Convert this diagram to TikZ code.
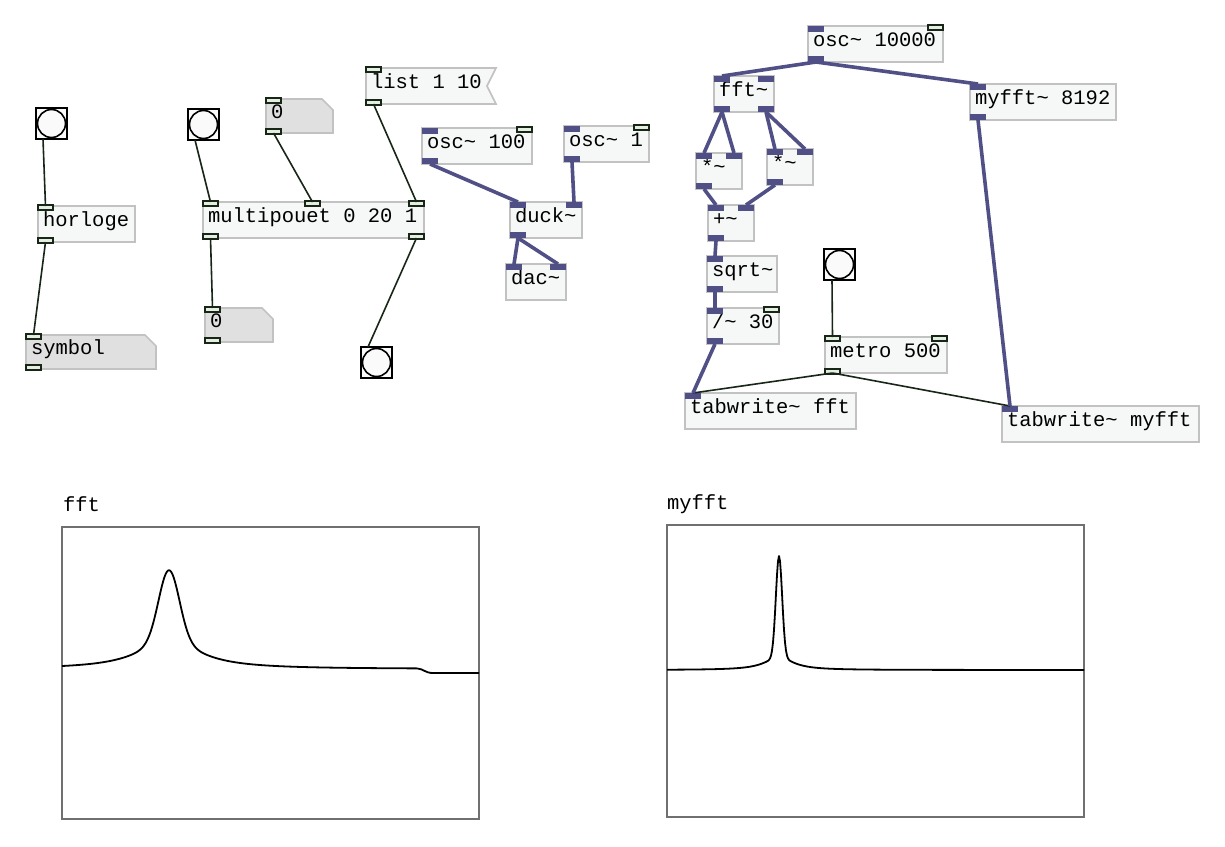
\documentclass[tikz,border=0pt]{standalone}
\usepackage{fontspec}
\setmonofont{Liberation Mono}
\newcommand*{\patchfont}{\ttfamily\fontsize{20.5}{20.5}\selectfont}
\newcommand*{\tld}{\textasciitilde}
\definecolor{boxfill}{HTML}{F6F8F8}
\definecolor{boxline}{HTML}{C2C2C2}
\definecolor{atomfill}{HTML}{E0E0E0}
\definecolor{sig}{HTML}{505086}
\definecolor{wire}{HTML}{182618}
\definecolor{portfill}{HTML}{E4EFE2}
\definecolor{frame}{HTML}{707070}
\usepackage{tikz}
\tikzstyle{base}=[x=1pt, y=-1pt, outer sep=0pt]
\tikzstyle{obj}=[draw=boxline, fill=boxfill, line width=1.6pt, anchor=north west, inner xsep=5pt, inner ysep=4pt, text height=16pt, text depth=12pt, align=flush left, font=\patchfont]
\tikzstyle{boxedge}=[draw=boxline, line width=1.6pt, line join=miter]
\tikzstyle{msg}=[obj, draw=none, path picture={\fill[white] (path picture bounding box.north east) -- ([xshift=-9pt]path picture bounding box.east) -- (path picture bounding box.south east) -- cycle;}]
\tikzstyle{atom}=[obj, draw=none, fill=atomfill, text height=15pt, text depth=11pt, path picture={\fill[white] ([xshift=-11pt]path picture bounding box.north east) -- (path picture bounding box.north east) -- ([yshift=-11pt]path picture bounding box.north east) -- cycle;}]
\tikzstyle{bng}=[draw=black, line width=2.2pt, fill=white!98!black, minimum size=31pt, inner sep=0pt, anchor=north west, path picture={\draw[line width=1.6pt] (path picture bounding box.center) circle (14pt);}]
\tikzstyle{cport}=[draw=wire, fill=portfill, line width=1.2pt]
\tikzstyle{sport}=[fill=sig]
\tikzstyle{ctrl}=[draw=wire, line width=1.6pt]
\tikzstyle{sigwire}=[draw=sig, line width=3.6pt]
\tikzstyle{arrayname}=[font=\patchfont, anchor=base west, inner sep=0pt]
\tikzstyle{graphframe}=[draw=frame, line width=1.6pt]
\tikzstyle{curve}=[draw=black, line width=1.8pt, line join=round]
\newcommand*{\cin}[2][0]{\draw[cport] ([xshift=#1pt,yshift=1pt]#2) rectangle ++(15,5);}
\newcommand*{\cout}[2][0]{\draw[cport] ([xshift=#1pt,yshift=-1pt]#2) rectangle ++(15,-5);}
\newcommand*{\sigin}[2][0]{\fill[sport] ([xshift=#1pt]#2) rectangle ++(16,6);}
\newcommand*{\sigout}[2][0]{\fill[sport] ([xshift=#1pt]#2) rectangle ++(16,-6);}
\newcommand*{\msgframe}[1]{\draw[boxedge] (#1.north west) -- (#1.north east) -- ([xshift=-9pt]#1.east) -- (#1.south east) -- (#1.south west) -- cycle;}
\newcommand*{\atomframe}[1]{\draw[boxedge] (#1.north west) -- ([xshift=-11pt]#1.north east) -- ([yshift=-11pt]#1.north east) -- (#1.south east) -- (#1.south west) -- cycle;}
\begin{document}
\begin{tikzpicture}[base]
    \path [use as bounding box] (0,0) rectangle (1225,846);
        % control part
        \node [bng] (b1) at (36,108) {};
        \node [bng] (b2) at (188,109) {};
        \node [bng] (b3) at (361,347) {};
        \node [bng] (b4) at (824,249) {};
        \node [obj, text width=87pt] (horloge) at (38,206) {horloge};
        \node [atom, text width=120pt] (symbol) at (26,335) {symbol};
        \node [atom, text width=57pt] (numtop) at (266,99) {0};
        \node [atom, text width=58pt] (numbot) at (205,308) {0};
        \node [obj, text width=211pt] (multi) at (203,202) {multipouet 0 20 1};
        \node [msg, text width=120pt] (list) at (366,68) {list 1 10};
        \node [obj, text width=112pt] (metro) at (825,337) {metro 500};
        \atomframe{symbol} \atomframe{numtop} \atomframe{numbot}
        \msgframe{list}
        % signal part
        \node [obj, text width=100pt] (osca) at (422,128) {osc\tld{} 100};
        \node [obj, text width=75pt] (oscb) at (564,126) {osc\tld{} 1};
        \node [obj, text width=62pt] (duck) at (510,202) {duck\tld};
        \node [obj, text width=50pt] (dac) at (506,264) {dac\tld};
        \node [obj, text width=125pt] (oscc) at (808,26) {osc\tld{} 10000};
        \node [obj, text width=50pt] (fft) at (714,76) {fft\tld};
        \node [obj, text width=136pt] (myfft) at (970,84) {myfft\tld{} 8192};
        \node [obj, text width=36pt] (mula) at (696,153) {*\tld};
        \node [obj, text width=36pt] (mulb) at (767,149) {*\tld};
        \node [obj, text width=36pt] (add) at (708,205) {+\tld};
        \node [obj, text width=60pt] (sqrt) at (707,256) {sqrt\tld};
        \node [obj, text width=62pt] (div) at (707,308) {/\tld{} 30};
        \node [obj, text width=161pt] (tabfft) at (685,393) {tabwrite\tld{} fft};
        \node [obj, text width=187pt] (tabmyfft) at (1002,406) {tabwrite\tld{} myfft};
        % ports
        \cin{horloge.north west} \cout{horloge.south west}
        \cin{symbol.north west} \cout{symbol.south west}
        \cin{numtop.north west} \cout{numtop.south west}
        \cin{numbot.north west} \cout{numbot.south west}
        \cin{multi.north west} \cin[102]{multi.north west} \cin[-15]{multi.north east}
        \cout{multi.south west} \cout[-15]{multi.south east}
        \cin{list.north west} \cout{list.south west}
        \cin{metro.north west} \cin[-15]{metro.north east} \cout{metro.south west}
        \sigin{osca.north west} \cin[-15]{osca.north east} \sigout{osca.south west}
        \sigin{oscb.north west} \cin[-15]{oscb.north east} \sigout{oscb.south west}
        \sigin{duck.north west} \sigin[-16]{duck.north east} \sigout{duck.south west}
        \sigin{dac.north west} \sigin[-16]{dac.north east}
        \sigin{oscc.north west} \cin[-15]{oscc.north east} \sigout{oscc.south west}
        \sigin{fft.north west} \sigin[-16]{fft.north east}
        \sigout{fft.south west} \sigout[-16]{fft.south east}
        \sigin{myfft.north west} \sigout{myfft.south west}
        \sigin{mula.north west} \sigin[-16]{mula.north east} \sigout{mula.south west}
        \sigin{mulb.north west} \sigin[-16]{mulb.north east} \sigout{mulb.south west}
        \sigin{add.north west} \sigin[-16]{add.north east} \sigout{add.south west}
        \sigin{sqrt.north west} \sigout{sqrt.south west}
        \sigin{div.north west} \cin[-15]{div.north east} \sigout{div.south west}
        \sigin{tabfft.north west}
        \sigin{tabmyfft.north west}
        % control wires
        \draw [ctrl] ([xshift=7pt]b1.south west) -- ([xshift=7.5pt]horloge.north west);
        \draw [ctrl] ([xshift=7.5pt]horloge.south west) -- ([xshift=7.5pt]symbol.north west);
        \draw [ctrl] ([xshift=7pt]b2.south west) -- ([xshift=7.5pt]multi.north west);
        \draw [ctrl] ([xshift=7.5pt]numtop.south west) -- ([xshift=109.5pt]multi.north west);
        \draw [ctrl] ([xshift=7.5pt]list.south west) -- ([xshift=-7.5pt]multi.north east);
        \draw [ctrl] ([xshift=7.5pt]multi.south west) -- ([xshift=7.5pt]numbot.north west);
        \draw [ctrl] ([xshift=-7.5pt]multi.south east) -- ([xshift=7pt]b3.north west);
        \draw [ctrl] ([xshift=8pt]b4.south west) -- ([xshift=7.5pt]metro.north west);
        \draw [ctrl] ([xshift=7.5pt]metro.south west) -- ([xshift=8pt]tabfft.north west);
        \draw [ctrl] ([xshift=7.5pt]metro.south west) -- ([xshift=8pt]tabmyfft.north west);
        % signal wires
        \draw [sigwire] ([xshift=8pt]osca.south west) -- ([xshift=8pt]duck.north west);
        \draw [sigwire] ([xshift=8pt]oscb.south west) -- ([xshift=-8pt]duck.north east);
        \draw [sigwire] ([xshift=8pt]duck.south west) -- ([xshift=8pt]dac.north west);
        \draw [sigwire] ([xshift=8pt]duck.south west) -- ([xshift=-8pt]dac.north east);
        \draw [sigwire] ([xshift=8pt]oscc.south west) -- ([xshift=8pt]fft.north west);
        \draw [sigwire] ([xshift=8pt]oscc.south west) -- ([xshift=8pt]myfft.north west);
        \draw [sigwire] ([xshift=8pt]fft.south west) -- ([xshift=8pt]mula.north west);
        \draw [sigwire] ([xshift=8pt]fft.south west) -- ([xshift=-8pt]mula.north east);
        \draw [sigwire] ([xshift=-8pt]fft.south east) -- ([xshift=8pt]mulb.north west);
        \draw [sigwire] ([xshift=-8pt]fft.south east) -- ([xshift=-8pt]mulb.north east);
        \draw [sigwire] ([xshift=8pt]mula.south west) -- ([xshift=8pt]add.north west);
        \draw [sigwire] ([xshift=8pt]mulb.south west) -- ([xshift=-8pt]add.north east);
        \draw [sigwire] ([xshift=8pt]add.south west) -- ([xshift=8pt]sqrt.north west);
        \draw [sigwire] ([xshift=8pt]sqrt.south west) -- ([xshift=8pt]div.north west);
        \draw [sigwire] ([xshift=8pt]div.south west) -- ([xshift=8pt]tabfft.north west);
        \draw [sigwire] ([xshift=8pt]myfft.south west) -- ([xshift=8pt]tabmyfft.north west);
        % arrays
        \node [arrayname] (fftname) at (63,511) {fft};
        \node [arrayname] (myfftname) at (667,509) {myfft};
        \draw [graphframe] (62,527) rectangle (479,819);
        \draw [graphframe] (667,525) rectangle (1084,817);
        \draw [curve] plot [domain=62:417, samples=356] (\x, {669 - (69*exp(-min(((\x-169)/14.5)^2,30)) + 29.8/(1+((\x-169)/35.8)^2))})
            .. controls (424,669) and (425,673) .. (433,673) -- (479,673);
        \draw [curve] plot [domain=667:1084, samples=418] (\x, {670 - (101.3*exp(-min(((\x-779)/4.44)^2,30)) + 12.7/(1+((\x-779)/17.3)^2))});
\end{tikzpicture}
\end{document}
